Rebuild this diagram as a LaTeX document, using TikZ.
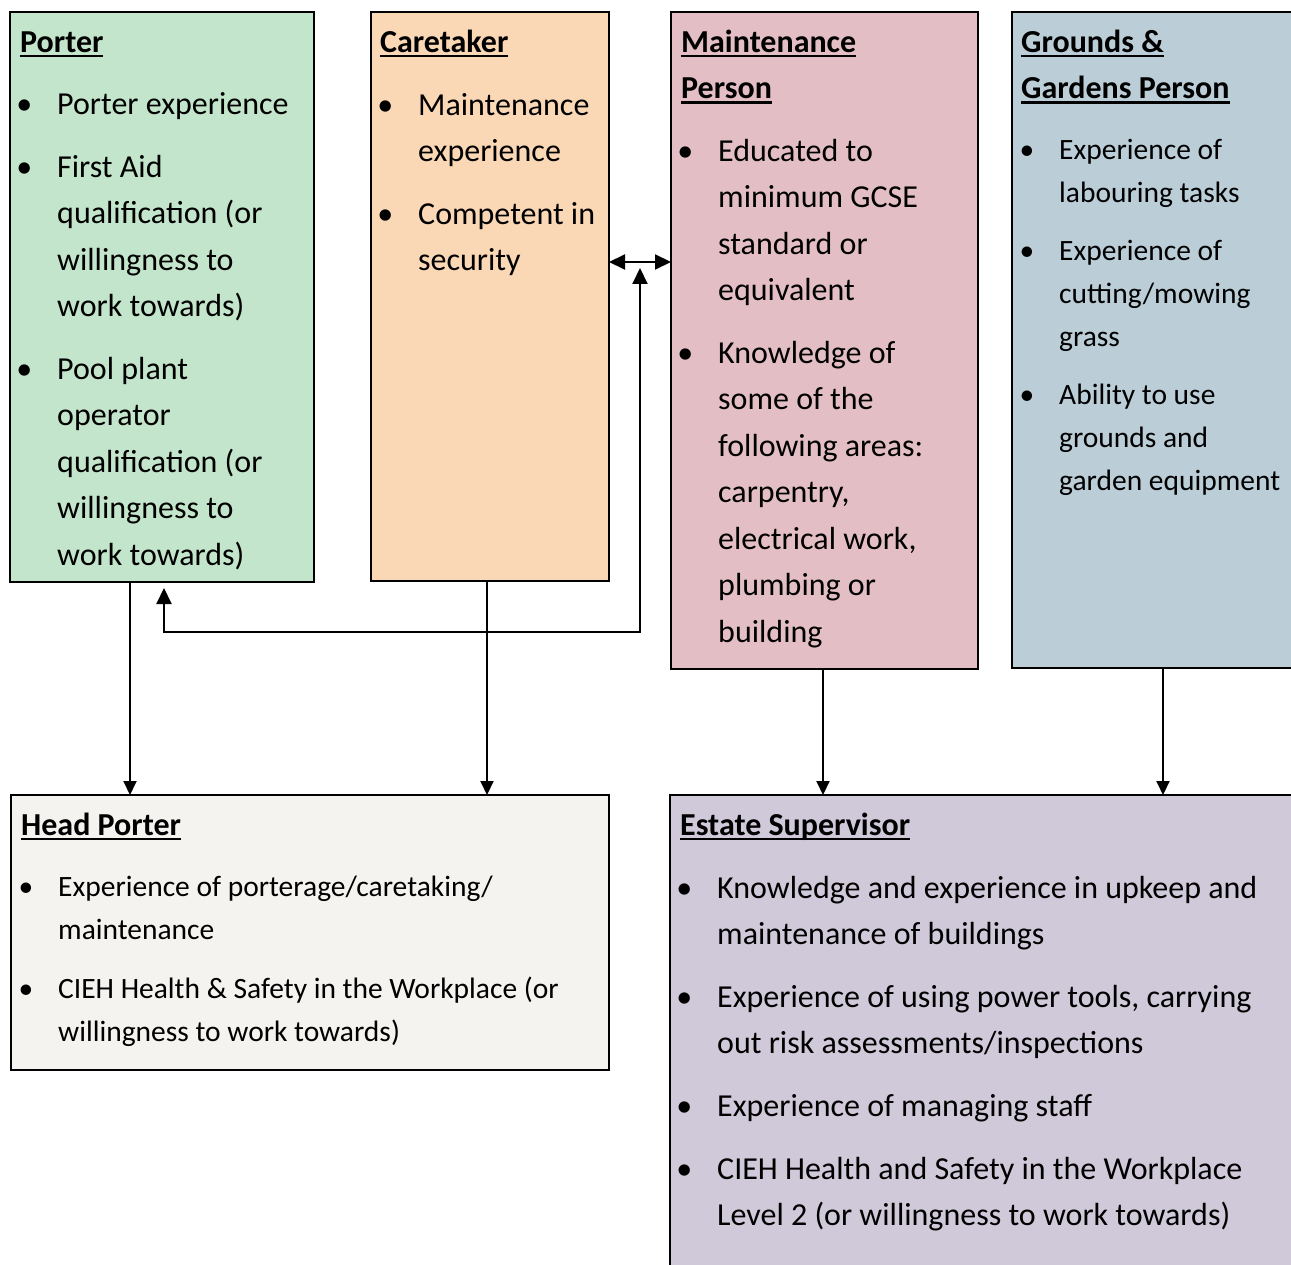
\documentclass[tikz,border=0pt]{standalone}
\usepackage{fontspec}
\setmainfont{Carlito}
\usetikzlibrary{arrows.meta,calc}
\definecolor{cPorter}{RGB}{195,229,203}
\definecolor{cCare}{RGB}{250,215,181}
\definecolor{cMaint}{RGB}{227,191,197}
\definecolor{cGround}{RGB}{187,206,216}
\definecolor{cHead}{RGB}{244,243,239}
\definecolor{cEstate}{RGB}{207,201,217}
\newcommand\ulbf[1]{\setbox0\hbox{\bfseries #1}\rlap{\rule[-5pt]{\wd0}{2.5pt}}\box0}
\newcommand\bul{\llap{\textbullet\hskip 25pt}}
\tikzset{
  box/.style={draw=black, line width=2.5pt, outer sep=0pt, inner sep=0pt, anchor=north west},
  txt/.style={anchor=north west, inner sep=0pt, align=left, font=\fontsize{32}{46.5}\selectfont},
  stxt/.style={anchor=north west, inner sep=0pt, align=left, font=\fontsize{29.5}{43}\selectfont},
  arr/.style={line width=2pt, -{Triangle[length=14pt,width=13pt]}},
  arr2/.style={line width=2pt, {Triangle[length=16pt,width=15pt]}-{Triangle[length=16pt,width=15pt]}}
}
\begin{document}
\begin{tikzpicture}[x=1pt,y=-1pt]
\useasboundingbox (0,0) rectangle (1291,1265);
\clip (0,0) rectangle (1291,1265);
% boxes
\node[box, fill=cPorter, minimum width=304, minimum height=570] (porter) at (10,12) {};
\node[box, fill=cCare, minimum width=238, minimum height=569] (caretaker) at (371,12) {};
\node[box, fill=cMaint, minimum width=307, minimum height=657] (maint) at (671,12) {};
\node[box, fill=cGround, minimum width=300, minimum height=656] (grounds) at (1012,12) {};
\node[box, fill=cHead, minimum width=598, minimum height=275] (head) at (11,795) {};
\node[box, fill=cEstate, minimum width=640, minimum height=500] (estate) at (670,795) {};
% Porter
\node[txt] (pT) at (20,22) {\rule{0pt}{30pt}\ulbf{Porter}};
\node[txt] (p1) at (57,84) {\rule{0pt}{30pt}\bul Porter experience};
\node[txt] (p2) at (57,147) {\rule{0pt}{30pt}\bul First Aid\\qualification (or\\willingness to\\work towards)};
\node[txt] (p3) at (57,349) {\rule{0pt}{30pt}\bul Pool plant\\operator\\qualification (or\\willingness to\\work towards)};
% Caretaker
\node[txt] (cT) at (380,22) {\rule{0pt}{30pt}\ulbf{Caretaker}};
\node[txt] (c1) at (418,85) {\rule{0pt}{30pt}\bul Maintenance\\experience};
\node[txt] (c2) at (418,194) {\rule{0pt}{30pt}\bul Competent in\\security};
% Maintenance
\node[txt] (mT) at (681,22) {\rule{0pt}{30pt}\ulbf{Maintenance}\\\ulbf{Person}};
\node[txt] (m1) at (718,131) {\rule{0pt}{30pt}\bul Educated to\\minimum GCSE\\standard or\\equivalent};
\node[txt] (m2) at (718,333) {\rule{0pt}{30pt}\bul Knowledge of\\some of the\\following areas:\\carpentry,\\electrical work,\\plumbing or\\building};
% Grounds
\node[txt] (gT) at (1021,22) {\rule{0pt}{30pt}\ulbf{Grounds \&}\\\ulbf{Gardens Person}};
\node[stxt] (g1) at (1059,129) {\rule{0pt}{30pt}\bul Experience of\\labouring tasks};
\node[stxt] (g2) at (1059,230) {\rule{0pt}{30pt}\bul Experience of\\cutting/mowing\\grass};
\node[stxt] (g3) at (1059,374) {\rule{0pt}{30pt}\bul Ability to use\\grounds and\\garden equipment};
% Head Porter
\node[txt] (hT) at (21,805) {\rule{0pt}{30pt}\ulbf{Head Porter}};
\node[stxt] (h1) at (58,866) {\rule{0pt}{30pt}\bul Experience of porterage/caretaking/\\maintenance};
\node[stxt] (h2) at (58,968) {\rule{0pt}{30pt}\bul CIEH Health \& Safety in the Workplace (or\\willingness to work towards)};
% Estate Supervisor
\node[txt] (eT) at (680,805) {\rule{0pt}{30pt}\ulbf{Estate Supervisor}};
\node[txt] (e1) at (717,868) {\rule{0pt}{30pt}\bul Knowledge and experience in upkeep and\\maintenance of buildings};
\node[txt] (e2) at (717,977) {\rule{0pt}{30pt}\bul Experience of using power tools, carrying\\out risk assessments/inspections};
\node[txt] (e3) at (717,1086) {\rule{0pt}{30pt}\bul Experience of managing staff};
\node[txt] (e4) at (717,1149) {\rule{0pt}{30pt}\bul CIEH Health and Safety in the Workplace\\Level 2 (or willingness to work towards)};
% connectors
\coordinate (a1) at ($(porter.south west)+(120,0)$);
\coordinate (a2) at ($(caretaker.south west)+(116,0)$);
\coordinate (a3) at ($(maint.south west)+(152,0)$);
\coordinate (a4) at ($(grounds.south west)+(151,0)$);
\draw[arr] (a1) -- (a1 |- head.north);
\draw[arr] (a2) -- (a2 |- head.north);
\draw[arr] (a3) -- (a3 |- estate.north);
\draw[arr] (a4) -- (a4 |- estate.north);
\coordinate (d1) at ($(caretaker.north east)+(0,250)$);
\draw[arr2] (d1) -- (d1 -| maint.west);
\coordinate (r1) at ($(porter.south west)+(154,6)$);
\coordinate (rc) at ($(porter.south west)+(154,50)$);
\coordinate (r2) at ($(d1)+(31,6)$);
\draw[arr2] (r1) -- (rc) -| (r2);
\end{tikzpicture}
\end{document}
